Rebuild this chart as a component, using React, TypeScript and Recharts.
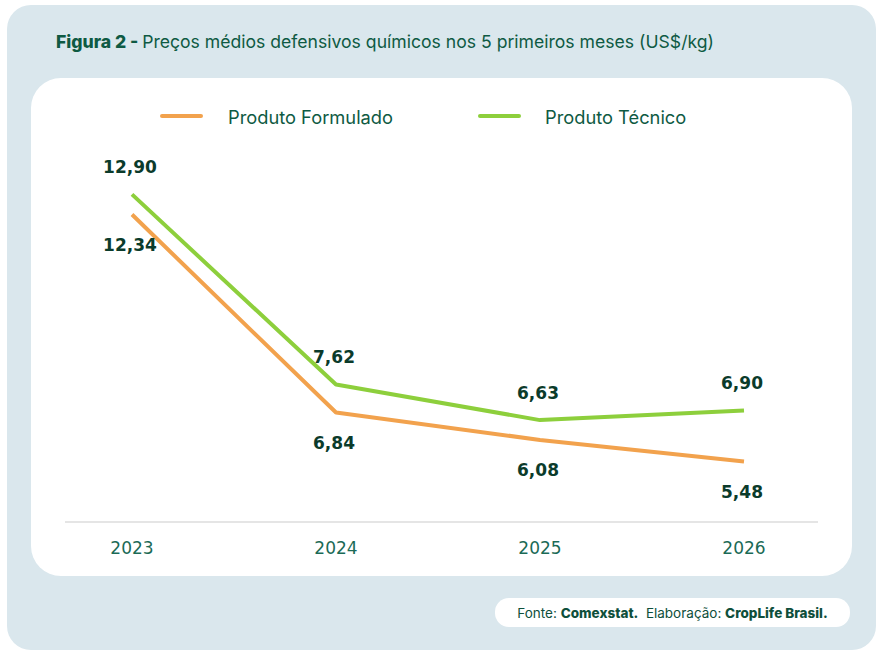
import React from "react";
import { LineChart, Line, XAxis, YAxis, LabelList } from "recharts";

const categories = ["2023", "2024", "2025", "2026"];
const formulado = [12.34, 6.84, 6.08, 5.48];
const tecnico = [12.9, 7.62, 6.63, 6.9];
const seriesNames = ["Produto Formulado", "Produto Técnico"];

const data = categories.map((c, i) => ({
  year: c,
  formulado: formulado[i],
  tecnico: tecnico[i],
}));

const ORANGE = "#F2A24D";
const GREEN = "#8DCF3C";
const LABEL = "#0B3B2B";
const TEAL = "#1B6A56";
const FONT = "Inter, 'Noto Sans', sans-serif";
const NUMFONT = "'DejaVu Sans', sans-serif";

const fmt = (v: number) => v.toFixed(2).replace(".", ",");

const makeLabel = (dy: number) => (props: any) => {
  const { x, y, value } = props;
  return (
    <text
      x={x - 2}
      y={y + dy}
      textAnchor="middle"
      dominantBaseline="central"
      fill={LABEL}
      fontFamily={NUMFONT}
      fontWeight={700}
      fontSize={17}
    >
      {fmt(value)}
    </text>
  );
};

const Tick = (props: any) => {
  const { x, y, payload } = props;
  return (
    <text
      x={x}
      y={y + 26}
      textAnchor="middle"
      dominantBaseline="central"
      fill={TEAL}
      fontFamily={NUMFONT}
      fontSize={17}
    >
      {payload.value}
    </text>
  );
};

export default function App() {
  return (
    <div
      style={{
        position: "absolute",
        left: 0,
        top: 0,
        width: 884,
        height: 656,
        background: "#ffffff",
        overflow: "hidden",
      }}
    >
      <div
        style={{
          position: "absolute",
          left: 7,
          top: 5,
          width: 869,
          height: 645,
          background: "#DAE7ED",
          borderRadius: 24,
        }}
      />
      <div
        style={{
          position: "absolute",
          left: 31,
          top: 78,
          width: 821,
          height: 498,
          background: "#ffffff",
          borderRadius: 30,
        }}
      />
      <div
        style={{
          position: "absolute",
          left: 56,
          top: 30,
          fontFamily: FONT,
          fontSize: 17.6,
          color: "#0E5A43",
          whiteSpace: "nowrap",
          lineHeight: "24px",
        }}
      >
        <span style={{ fontWeight: 800 }}>Figura 2 - </span>
        Preços médios defensivos químicos nos 5 primeiros meses (US$/kg)
      </div>
      {[
        { name: seriesNames[0], color: ORANGE, lx: 160, tx: 228 },
        { name: seriesNames[1], color: GREEN, lx: 478, tx: 545 },
      ].map((s) => (
        <React.Fragment key={s.name}>
          <div
            style={{
              position: "absolute",
              left: s.lx,
              top: 114,
              width: 43,
              height: 4,
              borderRadius: 2,
              background: s.color,
            }}
          />
          <div
            style={{
              position: "absolute",
              left: s.tx,
              top: 106,
              fontFamily: FONT,
              fontSize: 18.3,
              color: "#0E5A43",
              whiteSpace: "nowrap",
              lineHeight: "22px",
            }}
          >
            {s.name}
          </div>
        </React.Fragment>
      ))}
      <div style={{ position: "absolute", left: 0, top: 0 }}>
        <LineChart
          width={884}
          height={656}
          data={data}
          margin={{ top: 162, right: 66, bottom: 104, left: 65 }}
        >
          <XAxis
            dataKey="year"
            height={30}
            padding={{ left: 67, right: 74 }}
            axisLine={{ stroke: "#DCDCDC", strokeWidth: 1.5 }}
            tickLine={false}
            tickSize={0}
            tickMargin={0}
            tick={<Tick />}
            interval={0}
          />
          <YAxis hide domain={[3.8, 13.8]} width={0} />
          <Line
            dataKey="formulado"
            name={seriesNames[0]}
            stroke={ORANGE}
            strokeWidth={4}
            dot={false}
            activeDot={false}
            isAnimationActive={false}
            strokeLinejoin="round"
          >
            <LabelList dataKey="formulado" content={makeLabel(30)} />
          </Line>
          <Line
            dataKey="tecnico"
            name={seriesNames[1]}
            stroke={GREEN}
            strokeWidth={4}
            dot={false}
            activeDot={false}
            isAnimationActive={false}
            strokeLinejoin="round"
          >
            <LabelList dataKey="tecnico" content={makeLabel(-27)} />
          </Line>
        </LineChart>
      </div>
      <div
        style={{
          position: "absolute",
          left: 495,
          top: 598,
          width: 355,
          height: 29,
          background: "#ffffff",
          borderRadius: 14,
          fontFamily: FONT,
          fontSize: 13.5,
          color: "#0E4F3B",
          display: "flex",
          alignItems: "center",
          justifyContent: "center",
          whiteSpace: "nowrap",
        }}
      >
        <span>
          Fonte: <b style={{ fontWeight: 800 }}>Comexstat.</b>&nbsp; Elaboração:{" "}
          <b style={{ fontWeight: 800 }}>CropLife Brasil.</b>
        </span>
      </div>
    </div>
  );
}
